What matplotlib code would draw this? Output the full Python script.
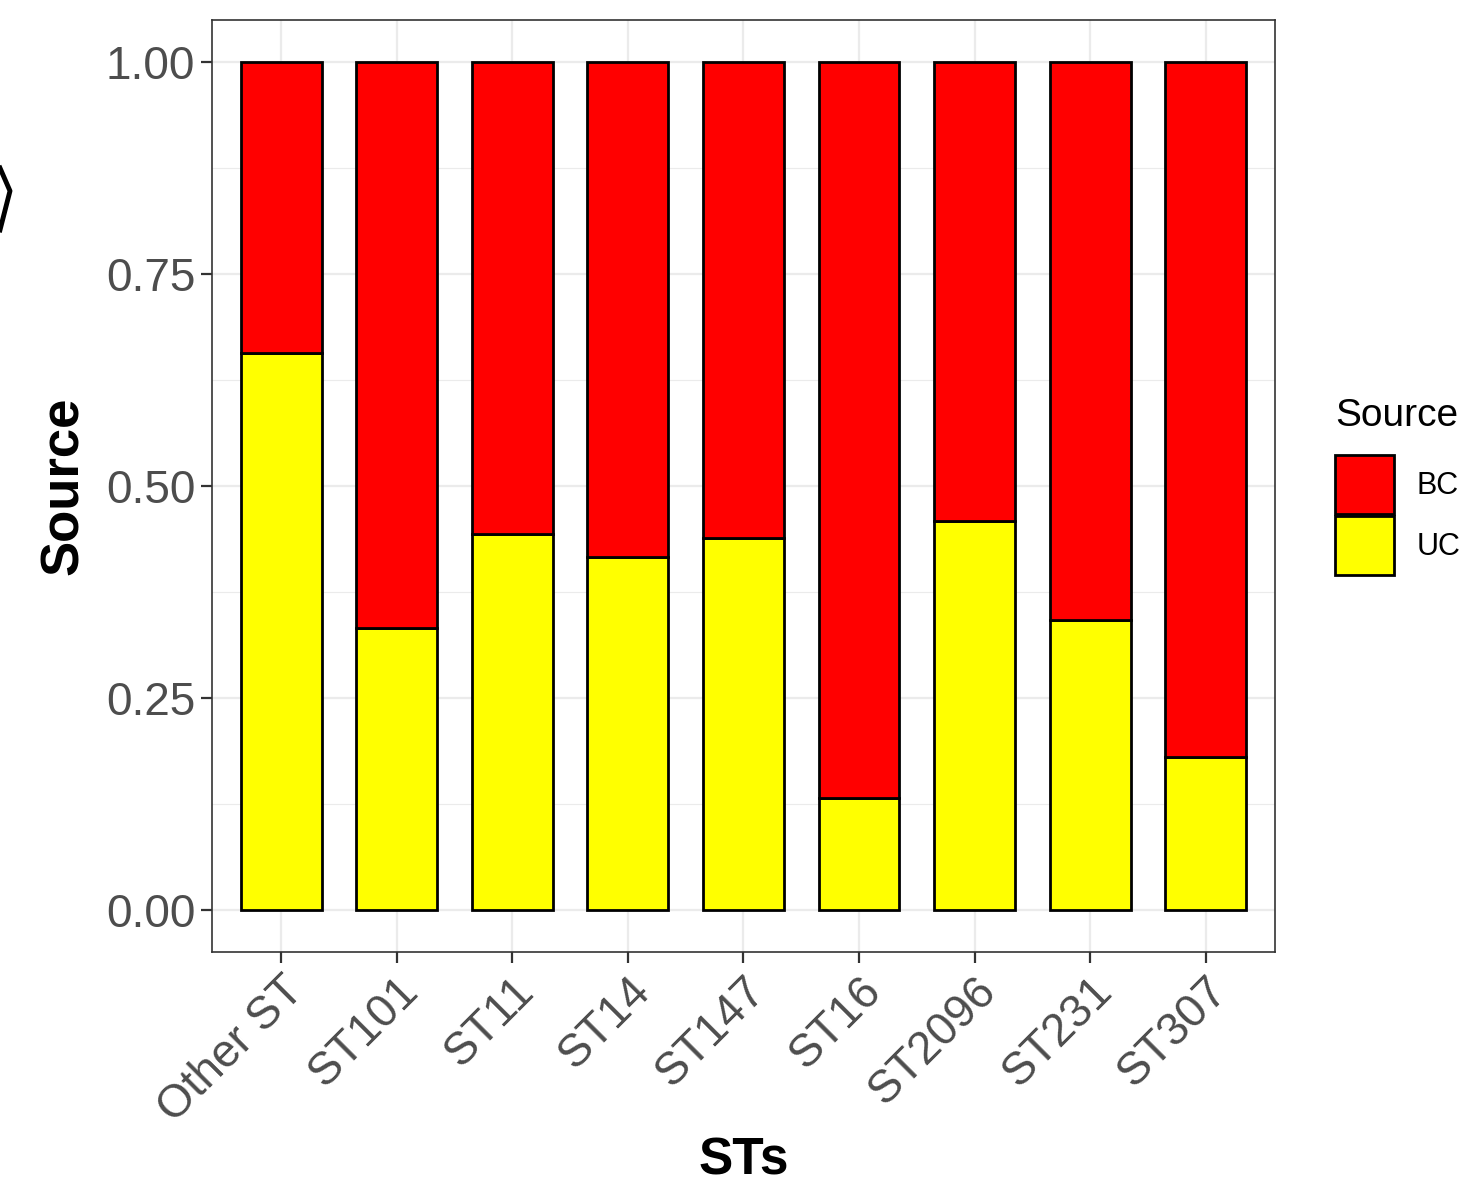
import numpy as np
import matplotlib.pyplot as plt
from matplotlib.patches import Patch
from matplotlib.lines import Line2D
from matplotlib.ticker import MultipleLocator

plt.rcParams['font.family'] = ['Liberation Sans', 'DejaVu Sans']

# 資料
sts = ["Other ST", "ST101", "ST11", "ST14", "ST147", "ST16", "ST2096", "ST231", "ST307"]
uc = [0.657, 0.332, 0.443, 0.416, 0.439, 0.132, 0.459, 0.342, 0.180]
bc = [1 - v for v in uc]
colors = {"BC": "#FF0000", "UC": "#FFFF00"}

fig = plt.figure(figsize=(14.7, 11.89), dpi=100)
ax = fig.add_axes([0.1442, 0.1993, 0.7231, 0.7839])

x = np.arange(len(sts))
ax.bar(x, uc, width=0.7, color=colors["UC"], edgecolor="black", linewidth=2.0, zorder=3)
ax.bar(x, bc, width=0.7, bottom=uc, color=colors["BC"], edgecolor="black", linewidth=2.0, zorder=3)

ax.set_xlim(-0.6, len(sts) - 0.4)
ax.set_ylim(-0.05, 1.05)
ax.set_xticks(x)
ax.set_xticklabels(sts, rotation=45, ha="right", va="top", rotation_mode="anchor")
ax.yaxis.set_major_locator(MultipleLocator(0.25))
ax.yaxis.set_minor_locator(MultipleLocator(0.125))
ax.set_yticks([0, 0.25, 0.5, 0.75, 1.0])
ax.set_yticklabels(["0.00", "0.25", "0.50", "0.75", "1.00"])

# 背景格線 (theme_bw)
ax.grid(which="major", color="#EBEBEB", linewidth=1.6, zorder=0)
ax.grid(which="minor", axis="y", color="#EBEBEB", linewidth=0.8, zorder=0)
ax.set_axisbelow(True)
for s in ax.spines.values():
    s.set_color("#333333")
    s.set_linewidth(1.2)

ax.tick_params(axis="both", which="major", labelsize=33, labelcolor="#4D4D4D",
               color="#333333", length=8, width=1.6, pad=4)
ax.tick_params(axis="y", which="minor", length=0)

ax.set_xlabel("STs", fontsize=37, fontweight="bold", labelpad=4)
ax.set_ylabel("Source", fontsize=38, fontweight="bold", labelpad=12)

handles = [Patch(facecolor=colors["BC"], edgecolor="black", linewidth=2.0),
           Patch(facecolor=colors["UC"], edgecolor="black", linewidth=2.0)]
leg = fig.legend(handles, ["BC", "UC"], title="Source", loc="upper left",
                 bbox_to_anchor=(0.908, 0.665), frameon=False, fontsize=22,
                 title_fontsize=28, handlelength=1.95, handleheight=2.6,
                 labelspacing=0.05, handletextpad=0.72, borderpad=0, borderaxespad=0)
leg._legend_box.align = "left"
leg._legend_box.sep = 15

# 左側被裁切的六邊形邊緣
fig.add_artist(Line2D([0, 0.0068, 0], [0.8587, 0.8394, 0.8066],
                      transform=fig.transFigure, color="black", linewidth=3.5))

fig.savefig("out.png", dpi=100)
